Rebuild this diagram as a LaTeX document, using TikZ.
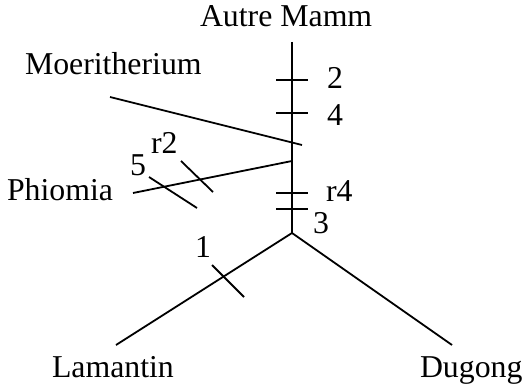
\documentclass[tikz,border=0pt]{standalone}
\usepackage{fontspec}
\setmainfont{Liberation Serif}
\begin{document}
\begin{tikzpicture}[x=1pt,y=-1pt,
  edge/.style={line width=1.8pt,line cap=butt},
  lbl/.style={anchor=base west,inner sep=0pt,outer sep=0pt,font=\fontsize{31.8}{36}\selectfont}]
\useasboundingbox (0,0) rectangle (526,390);
% coordinates
\coordinate (top) at (292,42);
\coordinate (root) at (292,233);
\coordinate (moeA) at (110,97);
\coordinate (moeB) at (302,145);
\coordinate (phiA) at (133,193);
\coordinate (phiB) at (292,161);
\coordinate (lam) at (116,345);
\coordinate (dug) at (452,345);
% tick ends
\coordinate (t2a) at (276,80);   \coordinate (t2b) at (308,80);
\coordinate (t4a) at (276,113);  \coordinate (t4b) at (308,113);
\coordinate (tr4a) at (276,193); \coordinate (tr4b) at (308,193);
\coordinate (t3a) at (276,209);  \coordinate (t3b) at (308,209);
\coordinate (t1a) at (212,265);  \coordinate (t1b) at (244,297);
\coordinate (tr2a) at (181,161); \coordinate (tr2b) at (213,192);
\coordinate (t5a) at (149,177);  \coordinate (t5b) at (197,208);
% branches
\draw[edge] (top) -- (root);
\draw[edge] (moeA) -- (moeB);
\draw[edge] (phiA) -- (phiB);
\draw[edge] (root) -- (lam);
\draw[edge] (root) -- (dug);
% ticks
\draw[edge] (t2a) -- (t2b);
\draw[edge] (t4a) -- (t4b);
\draw[edge] (tr4a) -- (tr4b);
\draw[edge] (t3a) -- (t3b);
\draw[edge] (t1a) -- (t1b);
\draw[edge] (tr2a) -- (tr2b);
\draw[edge] (t5a) -- (t5b);
% labels
\node[lbl] (autre) at (200,27) {Autre Mamm};
\node[lbl] (moer) at (25,75) {Moeritherium};
\node[lbl] (phio) at (7,200) {Phiomia};
\node[lbl] (lamt) at (52,377) {Lamantin};
\node[lbl] (dugt) at (420,377) {Dugong};
\node[lbl] (l2) at (327,89) {2};
\node[lbl] (l4) at (327,125) {4};
\node[lbl] (lr4) at (326,201) {r4};
\node[lbl] (l3) at (313,233) {3};
\node[lbl] (l1) at (195,257) {1};
\node[lbl] (l5) at (130,175) {5};
\node[lbl] (lr2) at (151,153) {r2};
\end{tikzpicture}
\end{document}
